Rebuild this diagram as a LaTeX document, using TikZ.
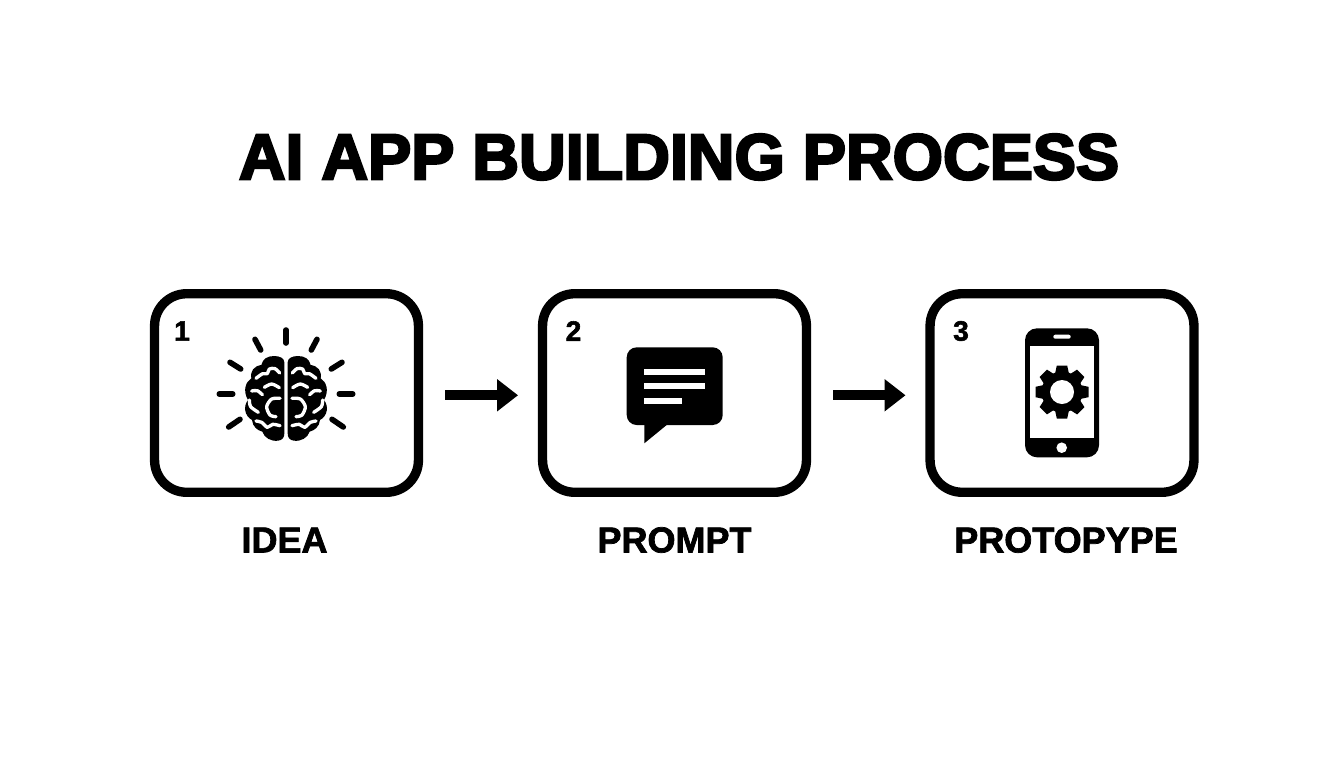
\documentclass[tikz,border=0pt]{standalone}
\usepackage{fontspec}
\setmainfont{Liberation Sans}
\newfontfamily\heavy[FakeBold=3.8]{Liberation Sans Bold}
\newfontfamily\semi[FakeBold=2]{Liberation Sans Bold}
\usetikzlibrary{arrows.meta}
\tikzset{
  stepbox/.style={draw=black,line width=7pt,rounded corners=24pt,minimum width=197.9pt,minimum height=148.9pt,fill=white,inner sep=0pt,outer sep=0pt},
  flow/.style={draw=black,line width=7.5pt,-{Triangle[length=15.75pt,width=23.25pt]}},
  caption/.style={font=\semi\fontsize{27}{27}\selectfont,inner sep=0pt,anchor=center},
  num/.style={font=\semi\fontsize{21}{21}\selectfont,inner sep=0pt,anchor=center},
  ray/.style={line width=4.2pt,line cap=round},
  squig/.style={draw=white,line width=2.5pt,line cap=round,line join=round}
}
\newcommand{\hemisphere}{%
  \fill[black] (403,232) .. controls (403,220) and (390,213) .. (372,213)
    .. controls (352,213) and (338,222) .. (334,240)
    .. controls (312,243) and (300,258) .. (304,280)
    .. controls (288,290) and (277,315) .. (294,345)
    .. controls (280,362) and (282,392) .. (306,405)
    .. controls (308,425) and (322,436) .. (337,440)
    .. controls (343,458) and (362,470) .. (385,467)
    .. controls (397,465) and (403,458) .. (403,445) -- cycle;
  \draw[squig] plot[smooth] coordinates {(318,280) (338,266) (352,266) (358,252) (375,251) (389,264)};
  \draw[squig] plot[smooth] coordinates {(343,307) (365,297) (388,308)};
  \draw[squig] plot[smooth] coordinates {(305,318) (322,317) (337,329)};
  \draw[squig] plot[smooth] coordinates {(298,345) (302,365) (325,382)};
  \draw[squig] plot[smooth] coordinates {(390,340) (365,342) (350,365) (360,390) (378,395)};
  \draw[squig] plot[smooth] coordinates {(318,408) (335,412) (352,427) (368,418) (390,422)};
}
\begin{document}
\begin{tikzpicture}[x=0.75pt,y=-0.75pt]
\useasboundingbox (0,0) rectangle (1344,768);
\fill[white] (0,0) rectangle (1344,768);
\node[inner sep=0pt,font=\heavy\fontsize{48.5}{48.5}\selectfont] (title) at (679,157) {AI APP BUILDING PROCESS};

\node[stepbox] (box1) at (286.5,393) {};
\node[stepbox] (box2) at (674.5,393) {};
\node[stepbox] (box3) at (1062,393) {};

\draw[flow,shorten <=20pt,shorten >=18.4pt] ([yshift=-1.7pt]box1.east) -- ([yshift=-1.7pt]box2.west);
\draw[flow,shorten <=20pt,shorten >=18.4pt] ([yshift=-1.7pt]box2.east) -- ([yshift=-1.7pt]box3.west);

\node[num] (n1) at (182,331) {1};
\node[num] (n2) at (573.5,331) {2};
\node[num] (n3) at (961,331) {3};

\node[caption] (c1) at (284.5,540) {IDEA};
\node[caption] (c2) at (674.5,540) {PROMPT};
\node[caption] (c3) at (1066,540) {PROTOPYPE};

% brain
\foreach \a/\b/\c/\d in {286/330/286/343, 255/339.3/260.7/350, 230/362.3/240.7/369, 219.3/394/232.7/394, 228.7/427/240/419.3}{
  \draw[ray] (\a,\b) -- (\c,\d);
}
\foreach \a/\b/\c/\d in {317/339.3/311.3/350, 342/362.3/331.3/369, 352.7/394/339.3/394, 343.3/427/332/419.3}{
  \draw[ray] (\a,\b) -- (\c,\d);
}
\begin{scope}[shift={(150,285)},x=0.25pt,y=-0.25pt]
  \hemisphere
\end{scope}
\begin{scope}[shift={(422,285)},x=-0.25pt,y=-0.25pt]
  \hemisphere
\end{scope}

% speech bubble
\fill[black,rounded corners=7.5pt] (626.7,347.3) rectangle (722.7,425);
\fill[black] (644.3,420) -- (644.3,443.3) -- (666.7,425) -- (666.7,420) -- cycle;
\fill[white] (644.3,369.3) rectangle (705.3,374.5);
\fill[white] (644.3,383.3) rectangle (705.3,389.3);
\fill[white] (644.3,398.3) rectangle (682,403.7);

% phone
\fill[black,rounded corners=9pt] (1025,328.3) rectangle (1099,457.3);
\fill[white] (1030,345.7) rectangle (1094.3,438.3);
\fill[white,rounded corners=1.5pt] (1053.3,334.7) rectangle (1070.7,338.7);
\fill[white] (1061.7,447.7) circle[radius=5.3];
\begin{scope}[shift={(1062,392)}]
  \fill[black] (0,0) circle[radius=20.5];
  \foreach \t in {0,45,...,315}{
    \fill[black,rotate=\t] (-6.8,-19) -- (-5.2,-26.5) -- (5.2,-26.5) -- (6.8,-19) -- cycle;
  }
  \fill[white] (0,0) circle[radius=12];
\end{scope}
\end{tikzpicture}
\end{document}
